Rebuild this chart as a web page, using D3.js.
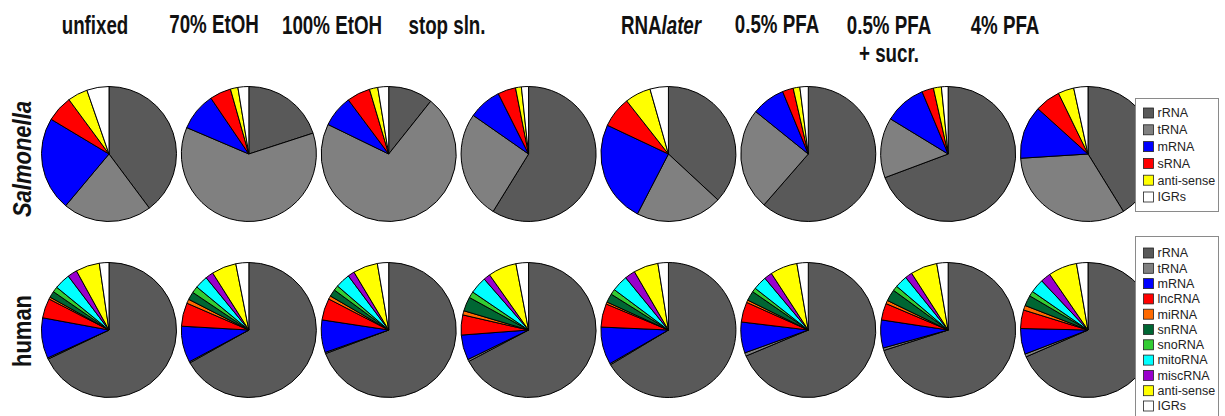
<!DOCTYPE html>
<html>
<head>
<meta charset="utf-8">
<script src="https://cdn.jsdelivr.net/npm/d3@7"></script>
<style>
  html, body { margin: 0; padding: 0; background: #fff; }
  svg { display: block; font-family: "Liberation Sans", Arial, sans-serif; }
</style>
</head>
<body>
<svg id="chart" width="1225" height="416"></svg>
<script>
// ---- data -------------------------------------------------------------
const conditions = ["unfixed", "70% EtOH", "100% EtOH", "stop sln.", "RNAlater",
                    "0.5% PFA", "0.5% PFA\n+ sucr.", "4% PFA"];

const salmonellaTypes = ["rRNA", "tRNA", "mRNA", "sRNA", "anti-sense", "IGRs"];
const humanTypes = ["rRNA", "tRNA", "mRNA", "lncRNA", "miRNA", "snRNA", "snoRNA",
                    "mitoRNA", "miscRNA", "anti-sense", "IGRs"];

// read share (%) per condition, in salmonellaTypes order
const salmonellaShares = [
  [39.8, 21.3, 22.5, 6.3, 4.8, 5.3],   // unfixed
  [20.0, 61.4,  9.1, 5.1, 1.8, 2.6],   // 70% EtOH
  [10.7, 71.5,  7.6, 5.6, 2.0, 2.6],   // 100% EtOH
  [58.8, 25.9,  7.9, 4.3, 1.4, 1.7],   // stop sln.
  [36.9, 20.7, 24.4, 7.4, 6.2, 4.4],   // RNAlater
  [61.4, 24.4,  8.0, 2.6, 1.6, 2.0],   // 0.5% PFA
  [69.3, 14.4, 10.0, 2.8, 1.9, 1.6],   // 0.5% PFA + sucr.
  [41.2, 32.8, 12.7, 6.1, 3.8, 3.4]    // 4% PFA
];

// read share (%) per condition, in humanTypes order
const humanShares = [
  [67.9, 0.3, 9.7, 4.7, 0.5, 1.5, 1.3, 3.8, 2.3, 5.7, 2.3],
  [66.9, 0.3, 8.7, 5.6, 1.0, 1.9, 1.6, 3.1, 1.9, 5.9, 3.1],
  [69.3, 0.3, 7.8, 5.2, 0.8, 1.7, 1.2, 3.5, 1.6, 5.9, 2.7],
  [67.3, 0.5, 6.0, 4.8, 1.0, 3.4, 1.5, 4.1, 1.6, 6.8, 3.0],
  [66.4, 0.3, 9.0, 5.6, 0.5, 2.1, 1.3, 3.9, 2.5, 5.9, 2.5],
  [68.7, 0.8, 7.4, 4.8, 0.6, 2.3, 1.0, 3.3, 1.9, 6.5, 2.7],
  [70.1, 0.6, 6.7, 4.0, 0.8, 2.8, 1.2, 3.0, 1.7, 6.4, 2.7],
  [67.8, 0.7, 6.1, 4.4, 1.1, 2.5, 1.2, 3.3, 2.4, 6.8, 2.7]
];

// ---- styling ----------------------------------------------------------
const typeColor = d3.scaleOrdinal()
  .domain(["rRNA", "tRNA", "mRNA", "sRNA", "lncRNA", "miRNA", "snRNA", "snoRNA",
           "mitoRNA", "miscRNA", "anti-sense", "IGRs"])
  .range(["#595959", "#808080", "#0000ff", "#ff0000", "#ff0000", "#ff6a00", "#006633",
          "#33cc33", "#00ffff", "#9900cc", "#ffff00", "#ffffff"]);

const W = 1225, H = 416;
const radius = 67.5;
const titleCenters = [95, 214, 332, 447, 661, 777, 889, 1005];

const svg = d3.select("#chart");
svg.append("rect").attr("width", W).attr("height", H).attr("fill", "#fff");

const x = d3.scalePoint().domain(conditions).range([109, 1088]);

const rows = [
  { label: "Salmonella", italic: true,  cy: 154, labelY: 159, types: salmonellaTypes, shares: salmonellaShares },
  { label: "human",      italic: false, cy: 330, labelY: 331, types: humanTypes,      shares: humanShares }
];

const pie = d3.pie().sort(null).value(d => d.value);
const arc = d3.arc().innerRadius(0).outerRadius(radius);

// ---- pies -------------------------------------------------------------
rows.forEach(row => {
  conditions.forEach((cond, i) => {
    const slices = row.types.map((t, k) => ({ type: t, value: row.shares[i][k] }));
    const g = svg.append("g")
      .attr("transform", `translate(${x(cond)},${row.cy})`);
    g.selectAll("path")
      .data(pie(slices))
      .join("path")
      .attr("d", arc)
      .attr("fill", d => typeColor(d.data.type))
      .attr("stroke", "#000")
      .attr("stroke-width", 1)
      .attr("stroke-linejoin", "round");
  });

  // row label
  svg.append("text")
    .attr("transform", `translate(31,${row.labelY}) rotate(-90) scale(0.88,1)`)
    .attr("text-anchor", "middle")
    .attr("font-size", 25)
    .attr("font-weight", "bold")
    .attr("font-style", row.italic ? "italic" : "normal")
    .attr("fill", "#111")
    .text(row.label);
});

// ---- column titles ----------------------------------------------------
const titleBaselines = [34, 33, 34, 34, 33.5, 33, 34, 34];
conditions.forEach((cond, i) => {
  const t = svg.append("text")
    .attr("transform", `translate(${titleCenters[i]},${titleBaselines[i]}) scale(0.75,1)`)
    .attr("text-anchor", "middle")
    .attr("font-size", 25)
    .attr("font-weight", "bold")
    .attr("fill", "#111");
  if (cond === "RNAlater") {
    t.append("tspan").text("RNA");
    t.append("tspan").attr("font-style", "italic").text("later");
  } else {
    cond.split("\n").forEach((line, j) => {
      t.append("tspan").attr("x", 0).attr("dy", j === 0 ? 0 : 28).text(line);
    });
  }
});

// ---- legends ----------------------------------------------------------
function legend(types, x0, y0, boxH, firstY, step) {
  const g = svg.append("g");
  g.append("rect")
    .attr("x", x0).attr("y", y0)
    .attr("width", 83).attr("height", boxH)
    .attr("fill", "#fff").attr("stroke", "#8a8a8a").attr("stroke-width", 1);
  const item = g.selectAll("g.item").data(types).join("g")
    .attr("class", "item")
    .attr("transform", (d, i) => `translate(${x0 + 8},${firstY + i * step})`);
  item.append("rect")
    .attr("x", 0).attr("y", -5).attr("width", 10).attr("height", 10)
    .attr("fill", d => typeColor(d)).attr("stroke", "#222").attr("stroke-width", 0.8);
  item.append("text")
    .attr("x", 14).attr("y", 0).attr("dy", "0.35em")
    .attr("font-size", 12.5).attr("fill", "#222")
    .text(d => d);
}
legend(salmonellaTypes, 1135.5, 98.5, 113, 113, 16.8);
legend(humanTypes, 1135.5, 236.5, 190, 253, 15.3);
</script>
</body>
</html>
